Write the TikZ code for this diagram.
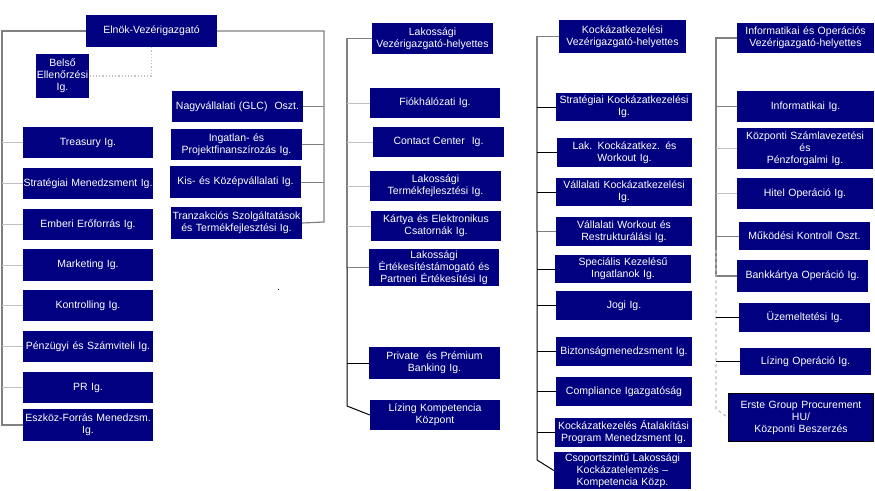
\documentclass[tikz,border=0pt]{standalone}
\usepackage{fontspec}
\setmainfont{Liberation Sans}
\usetikzlibrary{positioning,calc}
\definecolor{orgnavy}{RGB}{0,0,128}
\definecolor{busgray}{RGB}{128,128,128}
\definecolor{linklight}{RGB}{192,192,192}
\begin{document}
\begin{tikzpicture}[x=1pt,y=-1pt,
  blk/.style={fill=orgnavy,text=white,font=\fontsize{10.5}{12}\selectfont,align=center,inner sep=0pt,text width=130pt,minimum height=31pt},
  bus/.style={draw=busgray,line width=1.2pt},
  lnk/.style={draw=linklight,line width=1pt},
  lnkd/.style={draw=busgray,line width=1pt},
  lnkk/.style={draw=black,line width=1pt},
  dsh/.style={draw=linklight,line width=1.2pt,dashed}]
\useasboundingbox (0,0) rectangle (875,490);
\node[blk,text width=131pt,minimum height=32pt] (ceo) at (151.5,31) {Elnök-Vezérigazgató};
\node[blk,text width=53pt,minimum height=44pt] (belso) at (62.5,76) {Belső\\Ellenőrzési\\Ig.};
\node[blk] (treas) at (88,142.5) {Treasury Ig.};
\node[blk] (strat) at (88,183.5) {Stratégiai Menedzsment Ig.};
\node[blk] (hr) at (88,224.5) {Emberi Erőforrás Ig.};
\node[blk,minimum height=32pt] (mkt) at (88,265) {Marketing Ig.};
\node[blk] (ktr) at (88,305.5) {Kontrolling Ig.};
\node[blk] (penz) at (88,346.5) {Pénzügyi és Számviteli Ig.};
\node[blk] (pr) at (88,387.5) {PR Ig.};
\node[blk,minimum height=32pt] (eszk) at (88,425) {Eszköz-Forrás Menedzsm.\\Ig.};
\node[blk,text width=131pt] (nagy) at (237.5,106.5) {Nagyvállalati (GLC)\ \ Oszt.};
\node[blk,text width=131pt] (ingat) at (236.5,144.5) {Ingatlan- és\\Projektfinanszírozás Ig.};
\node[blk,text width=131pt,minimum height=32pt] (kkv) at (235.5,182) {Kis- és Középvállalati Ig.};
\node[blk,text width=131pt,minimum height=32pt] (tranz) at (236.5,223) {Tranzakciós Szolgáltatások\\és Termékfejlesztési Ig.};
\node[blk,text width=121pt] (lakvh) at (432.5,38.5) {Lakossági\\Vezérigazgató-helyettes};
\node[blk,minimum height=30pt] (fiok) at (435,103) {Fiókhálózati Ig.};
\node[blk,text width=131pt,minimum height=30pt] (cc) at (438.5,142) {Contact Center\ \ Ig.};
\node[blk,text width=131pt,minimum height=30pt] (lakterm) at (435.5,186) {Lakossági\\Termékfejlesztési Ig.};
\node[blk,minimum height=30pt] (kartya) at (436,226) {Kártya és Elektronikus\\Csatornák Ig.};
\node[blk,minimum height=37pt] (lakert) at (434,267.5) {Lakossági\\Értékesítéstámogató és\\Partneri Értékesítési Ig};
\node[blk,text width=131pt,minimum height=32pt] (priv) at (434.5,363) {Private\ \ és Prémium\\Banking Ig.};
\node[blk,minimum height=30pt] (lizk) at (435,415) {Lízing Kompetencia\\Központ};
\node[blk,text width=127pt,minimum height=33pt] (kockvh) at (622.5,36.5) {Kockázatkezelési\\Vezérigazgató-helyettes};
\node[blk,text width=136pt,minimum height=28pt] (stratk) at (624,107) {Stratégiai Kockázatkezelési\\Ig.};
\node[blk,text width=135pt,minimum height=29pt] (lakk) at (624.5,152.5) {Lak. Kockázatkez. és\\Workout Ig.};
\node[blk,text width=136pt,minimum height=28pt] (vallk) at (624,192) {Vállalati Kockázatkezelési\\Ig.};
\node[blk,text width=136pt,minimum height=29pt] (vallw) at (624,231.5) {Vállalati Workout és\\Restrukturálási Ig.};
\node[blk,text width=136pt,minimum height=28pt] (spec) at (623,269) {Speciális Kezelésű\\Ingatlanok Ig.};
\node[blk,text width=136pt,minimum height=29pt] (jogi) at (624,305.5) {Jogi Ig.};
\node[blk,text width=136pt,minimum height=29pt] (bizt) at (624,351.5) {Biztonságmenedzsment Ig.};
\node[blk,text width=136pt,minimum height=29pt] (comp) at (624,391.5) {Compliance Igazgatóság};
\node[blk,text width=137pt,minimum height=29pt] (atal) at (623.5,432.5) {Kockázatkezelés Átalakítási\\Program Menedzsment Ig.};
\node[blk,text width=137pt,minimum height=37pt] (csop) at (622.5,470.5) {Csoportszintű Lakossági\\Kockázatelemzés --\\Kompetencia Közp.};
\node[blk,text width=137pt,minimum height=30pt] (infvh) at (805.5,38) {Informatikai és Operációs\\Vezérigazgató-helyettes};
\node[blk,text width=137pt] (infig) at (805.5,106.5) {Informatikai Ig.};
\node[blk,text width=136pt,minimum height=41pt] (kszla) at (805,148.5) {Központi Számlavezetési\\és\\Pénzforgalmi Ig.};
\node[blk,text width=136pt] (hitel) at (805,193.5) {Hitel Operáció Ig.};
\node[blk,text width=131pt,minimum height=28pt] (mukod) at (804.5,236) {Működési Kontroll Oszt.};
\node[blk,text width=131pt,minimum height=32pt] (bankk) at (802.5,276) {Bankkártya Operáció Ig.};
\node[blk,text width=131pt,minimum height=29pt] (uzem) at (804.5,317.5) {Üzemeltetési Ig.};
\node[blk,text width=131pt,minimum height=27pt] (lizop) at (805.5,361.5) {Lízing Operáció Ig.};
\node[blk,draw=black,line width=1pt,text width=145pt,minimum height=48pt] (erste) at (801,417.5) {Erste Group Procurement\\HU/\\Központi Beszerzés};
\coordinate (lbus) at (2,425);
\coordinate (rbus) at (324,222);
\coordinate (lakbus) at (347,406);
\coordinate (kockbus) at (537,460);
\coordinate (infbus) at (716,409);
\draw[bus] (ceo.west) -| (lbus) -- (eszk.west);
\foreach \n in {treas,strat,hr,mkt,ktr,penz,pr} \draw[lnk] (lbus |- \n.west) -- (\n.west);
\draw[bus] (ceo.east) -| (rbus) -- (tranz.east);
\foreach \n in {nagy,ingat,kkv} \draw[lnkd] (rbus |- \n.east) -- (\n.east);
\draw[linklight,line width=1.2pt,dotted] (ceo.south) |- (belso.east);
\draw[bus] (lakvh.west) -| (lakbus |- lakert.west) -- (lakert.west);
\foreach \n in {fiok,cc,lakterm,kartya} \draw[lnk] (lakbus |- \n.west) -- (\n.west);
\draw[lnkk] (lakbus |- lakert.west) -- (lakbus) -- (lizk.west);
\draw[lnkk] (lakbus |- priv.west) -- (priv.west);
\draw[bus] (kockvh.west) -| (kockbus |- vallw.west) -- (vallw.west);
\draw[lnkk] (kockbus |- vallw.west) -- (kockbus) -- (csop.west);
\foreach \n in {stratk,lakk,vallk,spec,jogi,bizt,comp,atal} \draw[lnkk] (kockbus |- \n.west) -- (\n.west);
\draw[bus] (infvh.west) -| (infbus |- bankk.west) -- (bankk.west);
\foreach \n in {infig,mukod} \draw[lnkd] (infbus |- \n.west) -- (\n.west);
\foreach \n in {kszla,hitel} \draw[lnk] (infbus |- \n.west) -- (\n.west);
\draw[dsh] (infbus |- mukod.south) -- (infbus) -- (erste.west);
\foreach \n in {uzem,lizop} \draw[lnkk] (infbus |- \n.west) -- (\n.west);
\fill[orgnavy] (277.5,288.5) rectangle (278.7,289.7);
\end{tikzpicture}
\end{document}
